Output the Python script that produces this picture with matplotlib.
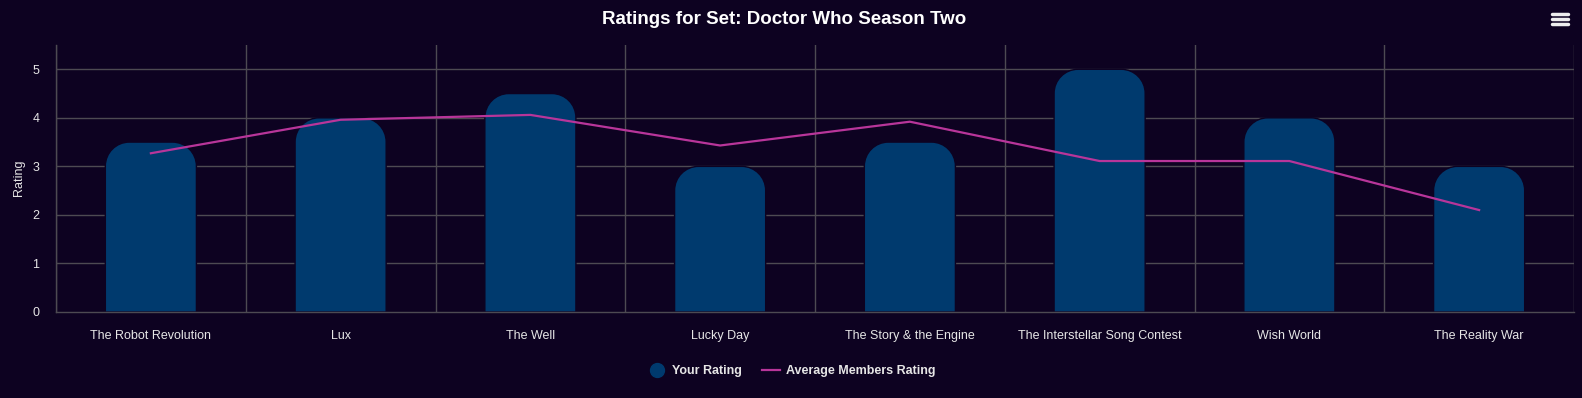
import numpy as np
import matplotlib.pyplot as plt
from matplotlib.path import Path
from matplotlib.patches import PathPatch
from matplotlib.lines import Line2D

plt.rcParams['font.family'] = ['Liberation Sans', 'DejaVu Sans']

# data
episodes = ['The Robot Revolution', 'Lux', 'The Well', 'Lucky Day',
            'The Story & the Engine', 'The Interstellar Song Contest',
            'Wish World', 'The Reality War']
your_rating = [3.5, 4, 4.5, 3, 3.5, 5, 4, 3]
avg_rating = [3.27, 3.96, 4.06, 3.43, 3.92, 3.11, 3.11, 2.10]

bg = '#0d0221'
bar_col = '#003a6e'
line_col = '#b8359a'
grid_col = '#4d4a52'
txt = '#e6e6e6'

W, H = 1582, 398
fig = plt.figure(figsize=(W / 100, H / 100), dpi=100, facecolor=bg)
left, right, top, bottom = 56, 1574, 45, 312
ax = fig.add_axes([left / W, 1 - bottom / H, (right - left) / W, (bottom - top) / H])
ax.set_facecolor(bg)

n = len(episodes)
ax.set_xlim(-0.5, n - 0.5)
ax.set_ylim(0, 5.5)

# grid
for k in range(n + 1):
    ax.axvline(k - 0.5, color=grid_col, lw=1, zorder=0)
for v in range(1, 6):
    ax.axhline(v, color=grid_col, lw=1, zorder=0)

# rounded bars
px_x = (right - left) / n
px_y = (bottom - top) / 5.5
r = 24
rx, ry = r / px_x, r / px_y
w = 0.48
kk = 0.5523
for i, h in enumerate(your_rating):
    x0, x1 = i - w / 2, i + w / 2
    verts = [(x0, 0), (x0, h - ry),
             (x0, h - ry + kk * ry), (x0 + rx - kk * rx, h), (x0 + rx, h),
             (x1 - rx, h),
             (x1 - rx + kk * rx, h), (x1, h - ry + kk * ry), (x1, h - ry),
             (x1, 0), (x0, 0)]
    codes = [Path.MOVETO, Path.LINETO,
             Path.CURVE4, Path.CURVE4, Path.CURVE4,
             Path.LINETO,
             Path.CURVE4, Path.CURVE4, Path.CURVE4,
             Path.LINETO, Path.CLOSEPOLY]
    ax.add_patch(PathPatch(Path(verts, codes), facecolor=bar_col,
                           edgecolor=bg, lw=1, zorder=2))

ax.plot(range(n), avg_rating, color=line_col, lw=1.6, zorder=3)

ax.set_xticks(range(n))
ax.set_xticklabels(episodes, color=txt, fontsize=9)
ax.set_yticks(range(6))
ax.set_yticklabels([str(v) for v in range(6)], color=txt, fontsize=9)
ax.tick_params(axis='x', length=0, pad=13)
ax.tick_params(axis='y', length=0, pad=12)
for s in ['top', 'right']:
    ax.spines[s].set_visible(False)
for s in ['left', 'bottom']:
    ax.spines[s].set_color(grid_col)
    ax.spines[s].set_linewidth(1)

fig.text(19 / W, 1 - 178 / H, 'Rating', color=txt, fontsize=9,
         rotation=90, ha='center', va='center')

fig.text(784 / W, 1 - 19.5 / H, 'Ratings for Set: Doctor Who Season Two',
         color='white', fontsize=13.5, fontweight='bold', ha='center', va='center')

# legend
handles = [Line2D([], [], marker='o', ls='none', color=bar_col, markersize=10),
           Line2D([], [], color=line_col, lw=1.6)]
leg = fig.legend(handles, ['Your Rating', 'Average Members Rating'],
                 loc='center', bbox_to_anchor=(792 / W, 1 - 371 / H), ncol=2,
                 frameon=False, handlelength=1.4, handletextpad=0.5,
                 columnspacing=1.6, prop={'weight': 'bold', 'size': 9})
for t in leg.get_texts():
    t.set_color(txt)

# menu icon
for yy in (13.5, 18.5, 23.5):
    fig.add_artist(Line2D([1552 / W, 1568 / W], [1 - yy / H, 1 - yy / H],
                          color='#eeeeee', lw=2.5, solid_capstyle='round'))

fig.savefig('out.png', dpi=100, facecolor=bg)
